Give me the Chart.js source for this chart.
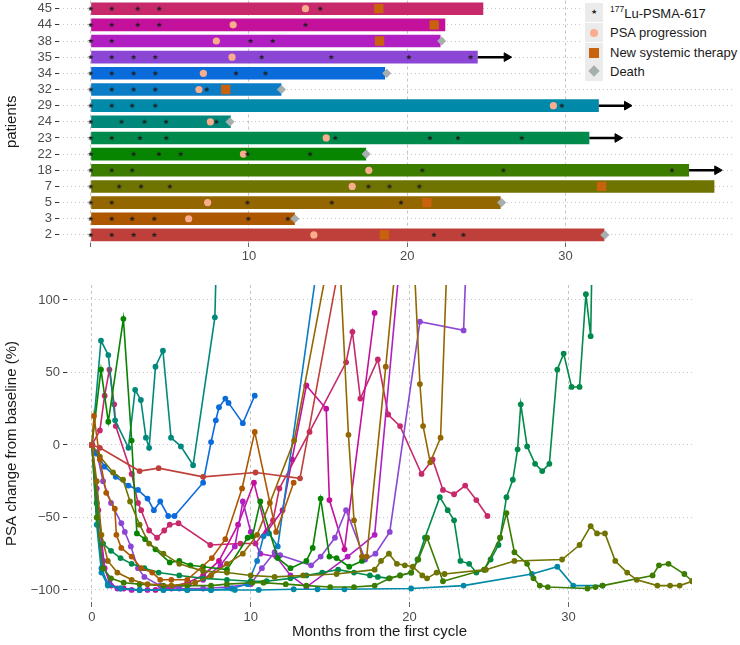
<!DOCTYPE html>
<html>
<head>
<meta charset="utf-8">
<script src="https://cdn.jsdelivr.net/npm/chart.js@4.4.1/dist/chart.umd.min.js"></script>
<style>
  body{margin:0;background:#fff;width:740px;height:645px;overflow:hidden;position:relative;font-family:"Liberation Sans",Arial,sans-serif;}
  #swim{position:absolute;left:0;top:-6px;}
  #psa{position:absolute;left:0;top:265px;}
  #legend{position:absolute;left:583px;top:0;width:157px;height:81px;background:#fff;}
  .row{position:absolute;left:2px;height:20px;width:155px;}
  .key{position:absolute;left:0;top:0;width:18px;height:19px;background:#ebebeb;}
  .lab{position:absolute;left:25px;top:2px;font-size:13px;color:#1a1a1a;white-space:nowrap;}
  .lab sup{font-size:8.5px;position:relative;top:-1px;}
  .star{position:absolute;left:6px;top:5px;font-size:7px;color:#222;}
  .dot{position:absolute;left:5px;top:6px;width:8px;height:8px;border-radius:50%;background:#f9ad8d;}
  .sq{position:absolute;left:4px;top:5px;width:10px;height:10px;background:#c9620c;}
  .dia{position:absolute;left:5px;top:5px;width:8px;height:8px;background:#a7aeae;transform:rotate(45deg);}
</style>
</head>
<body>
<canvas id="swim" width="740" height="271"></canvas>
<canvas id="psa" width="740" height="380"></canvas>
<div id="legend">
  <div class="row" style="top:3px"><span class="key"><span class="star">&#9733;</span></span><span class="lab"><sup>177</sup>Lu-PSMA-617</span></div>
  <div class="row" style="top:23px"><span class="key"><span class="dot"></span></span><span class="lab">PSA progression</span></div>
  <div class="row" style="top:43px"><span class="key"><span class="sq"></span></span><span class="lab">New systemic therapy</span></div>
  <div class="row" style="top:62px"><span class="key"><span class="dia"></span></span><span class="lab">Death</span></div>
</div>
<script>
// ---------- swimmer data ----------
const patients = ['45','44','38','35','34','32','29','24','23','22','18','7','5','3','2'];
const barEnds  = [24.8,22.4,22.1,24.45,18.6,12.05,32.1,8.85,31.5,17.4,37.8,39.4,25.9,12.9,32.45];
const patientColors = ['#c7296b','#c4119c','#b11ec2','#8c46d6','#0a6bdb','#0a7dc6','#0089a8','#00897a',
                       '#008a4b','#078500','#3c7d00','#6f7300','#936600','#ad5700','#bf403a'];

const cycles = {
  '45':[0,1.33,2.97,4.33,14.5],
  '44':[0,1.33,2.97,4.33,13.57],
  '38':[0,1.33,10.1,11.5],
  '35':[0,1.33,2.71,4.08,10.8,15.2,20.1,24.0],
  '34':[0,1.33,2.71,4.08,9.18,11.04],
  '32':[0,1.33,2.71,4.08,7.33],
  '29':[0,1.33,2.62,4.08,29.76],
  '24':[0,1.95,3.4,4.76,7.94],
  '23':[0,1.33,3.11,4.78,15.45,21.43,23.2,27.23],
  '22':[0,2.71,4.31,5.68,9.9,13.86],
  '18':[0,1.33,2.62,20.95,26.07,36.72],
  '7':[0,1.8,3.18,5.0,17.55,18.88,20.76],
  '5':[0,1.33,9.9,15.23,19.6],
  '3':[0,1.33,2.62,4.02,9.96,12.45],
  '2':[0,1.33,2.71,4.02,21.68,23.54]
};
const progression = {'45':13.57,'44':9.0,'38':7.94,'35':8.93,'34':7.12,'32':6.84,'29':29.23,'24':7.56,
                     '23':14.88,'22':9.65,'18':17.57,'7':16.52,'5':7.39,'3':6.19,'2':14.1};
const newTherapy = {'45':18.2,'44':21.7,'38':18.25,'32':8.53,'7':32.27,'5':21.24,'2':18.55};
const deaths = {'38':22.17,'34':18.7,'32':12.05,'24':8.8,'22':17.4,'5':25.96,'3':12.9,'2':32.48};
const arrowTips = {'35':26.6,'29':34.2,'23':33.6,'18':39.9};

// ---------- PSA data (month, % change) ----------
const psa2  = [[0,0],[0.5,-2],[3.0,-18],[4.2,-16],[7.0,-22],[10.3,-19],[13.1,-23],[16.0,150]];
const psa3  = [[0,0],[0.13,20],[0.5,-10],[0.9,-33],[1.44,-44],[1.54,-62],[1.85,-71],[2.5,-77],[3.1,-85],[3.8,-88],
               [4.3,-93],[5.0,-93],[6.0,-93],[7.55,-78],[8.4,-65],[9.45,-30],[10.25,9],[11.6,-60],[12.7,-26]];
const psa5  = [[0,0],[0.3,-25],[0.6,-62],[1.0,-80],[1.6,-88],[2.5,-93],[3.5,-96],[5,-97],[6.5,-95],[7.5,-90],
               [8.5,-82],[9.5,-75],[10.4,-62],[11.2,-40],[12.73,3],[15.45,160],[16.15,7],[16.5,-52],[17.0,-77],
               [17.3,-77],[18.5,54],[19.9,215],[20.65,42],[20.85,13],[21.3,-12],[21.95,5],[22.6,200]];
const psa7  = [[0,0],[0.5,-8],[1.33,-19],[1.96,-24],[2.4,-39],[3.0,-55],[3.6,-68],[4.5,-75],[5.5,-82],[7,-87],
               [8.5,-88],[10,-90],[11.5,-91],[13.3,-90],[15.4,-89],[17.8,-86],[18.2,-80],[18.7,-75],[19.2,-82],
               [19.7,-83],[20.2,-84],[20.8,-90],[21.1,-92],[21.7,-88],[22.2,-89],[24.8,-86],[26.6,-80],[29.6,-79],
               [30.7,-69],[31.4,-56],[31.8,-61],[32.3,-61],[32.95,-80],[33.7,-88],[34.3,-93],[35.6,-97],[36.4,-97],
               [37,-97],[37.8,-94]];
const psa18 = [[0,0],[0.3,-50],[0.7,-85],[1.2,-92],[2,-95],[3,-96],[4.5,-97],[6,-97],[7.5,-97],[8.5,-96],
               [10.1,-95],[10.8,-95],[12.2,-96],[13.5,-97],[15,-98],[16.5,-98],[17.8,-97],[18.75,-92],[19.4,-90],
               [20.1,-88],[20.55,-79],[21.1,-64],[22.1,-94],[24.7,-86],[25.7,-64],[26.1,-47],[26.6,-74],[27.4,-82],
               [27.8,-92],[28.2,-97],[28.7,-98],[31.2,-99],[31.7,-98],[32.15,-97],[35.3,-90],[35.7,-83],[36.3,-82],
               [37.3,-89],[37.8,-94]];
const psa22 = [[0,0],[0.57,52],[1.03,16],[1.98,87],[2.5,3],[2.83,-61],[3.35,-65],[4.0,-72],[4.9,-81],[5.5,-80],
               [6.2,-83],[7.0,-84],[8.5,-86],[9.8,-64],[10.1,-63],[10.6,-39],[11.7,-78],[12.5,-85],[13.5,-80],
               [13.9,-71],[14.4,-37],[14.95,-77],[15.4,-78],[16.2,-84],[17.0,-80]];
const psa23 = [[0,0],[0.3,-40],[0.7,-68],[1.2,-73],[1.8,-78],[2.5,-82],[3.3,-85],[4.2,-88],[5.5,-90],[7,-92],
               [8.5,-93],[10,-94],[11,-94],[12.5,-92],[13.5,-90],[14.5,-88],[15.5,-86],[16.5,-88],[17.5,-90],
               [18.0,-91],[18.7,-92],[19.4,-90],[20.1,-88],[20.5,-79],[20.97,-64],[21.9,-36],[22.4,-45],[22.8,-52],
               [23.2,-80],[23.75,-82],[24.2,-88],[24.7,-86],[25.1,-79],[25.6,-69],[25.7,-64],[26.1,-36],[26.5,-24],
               [26.8,-3],[27.0,28],[27.4,-1],[27.9,-13],[28.35,-18],[28.8,-13],[29.3,52],[29.7,63],[30.2,40],
               [30.7,40],[31.1,104],[31.4,75],[31.6,200]];
const psa24 = [[0,0],[0.57,72],[1.03,62],[1.46,17],[2.3,-2],[2.72,38],[3.08,31],[3.4,5],[3.6,-2],[4.0,54],
               [4.47,65],[4.98,5],[5.6,-1],[6.37,-14],[7.74,88],[8.0,200]];
const psa29 = [[0,0],[0.3,-55],[0.6,-88],[1.0,-97],[1.8,-99],[3,-100],[4.5,-100],[6,-100],[7.5,-100],[9,-100],
               [10.5,-100],[12.7,-99.5],[14.2,-99.5],[15.9,-99.5],[20.1,-99],[23.4,-97],[27.7,-89],[29.3,-84],
               [30.3,-97],[32.15,-97]];
const psa32 = [[0,0],[0.3,-40],[0.6,-85],[1.0,-96],[1.8,-99],[3,-100],[4.5,-100],[6,-100],[7.5,-100],[8.8,-99],
               [9.8,-96],[10.4,-80],[10.8,-63],[11.15,-61],[11.7,-70],[14.2,125]];
const psa34 = [[0,0],[0.3,-6],[0.8,-15],[1.5,-22],[2.3,-28],[2.9,-31],[3.5,-37],[3.9,-45],[4.3,-39],[4.8,-49],
               [5.2,-49],[7.0,-26],[7.5,2],[7.8,17],[8.0,26],[8.4,32],[8.6,29],[9.5,15],[10.25,34]];
const psa35 = [[0,0],[0.3,-5],[0.7,-25],[1.2,-40],[1.85,-54],[2.07,-60],[2.45,-70],[2.9,-85],[3.3,-91],[4.3,-97],
               [5.5,-99],[7,-99],[8.5,-98],[10,-96],[10.7,-85],[11.5,-74],[11.85,-76],[13.8,-83],[14.4,-77],
               [15.3,-64],[16.0,-45],[17.2,-79],[17.85,-75],[18.75,-60],[20.65,85],[23.4,79],[23.8,200]];
const psa38 = [[0,0],[0.3,-30],[0.7,-80],[1.1,-95],[1.6,-99],[2.5,-100],[3.5,-100],[5,-99],[6.1,-96],[7,-93],
               [8.1,-83],[9.0,-70],[9.5,-39],[10.0,-60],[10.6,-75],[11.6,-77],[12.5,-90],[13.5,-98],[16.1,-77],
               [17.8,-62],[19.5,140]];
const psa44 = [[0,0],[0.4,-45],[0.8,-85],[1.2,-97],[2,-99],[3,-100],[4,-100],[5,-98],[6,-95],[7,-90],[8,-80],
               [9.2,-55],[10.2,-26],[11.0,-60],[12.0,-45],[12.6,-10],[13.5,41],[14.75,25],[14.95,-38],[15.9,-72],
               [17.8,91]];
const psa45 = [[0,0],[0.5,10],[0.8,34],[1.1,52],[1.4,28],[1.5,13],[2.5,-20],[2.9,-40],[3.1,-45],[3.6,-59],
               [4.1,-64],[4.55,-59],[4.9,-55],[5.45,-54],[7.45,-69],[9.35,-68],[10.3,-68],[11.4,-52],[11.8,-30],
               [13.7,9],[16.0,57],[16.4,78],[16.9,32],[18.0,59],[18.65,21],[19.4,13],[20.75,-20],[21.45,-10],
               [22.1,-31],[22.8,-34],[23.5,-28],[24.2,-38],[24.9,-49]];

const psaPatients = ['2','3','5','7','18','22','23','24','29','32','34','35','38','44','45'];
const psaSeries = [psa2,psa3,psa5,psa7,psa18,psa22,psa23,psa24,psa29,psa32,psa34,psa35,psa38,psa44,psa45];

const monthTicks = [0,10,20,30];
const psaTicks = [-100,-50,0,50,100];

// =========================================
// helpers
// =========================================
function makeStar(r){
    const s = Math.ceil(r*2)+2;
    const c = document.createElement('canvas');
    c.width = s; c.height = s;
    const g = c.getContext('2d');
    g.fillStyle = '#1e1e1e';
    g.beginPath();
    for(let i=0;i<10;i++){
        const a = -Math.PI/2 + i*Math.PI/5;
        const rr = i%2 ? r*0.45 : r;
        g.lineTo(s/2 + rr*Math.cos(a), s/2 + rr*Math.sin(a));
    }
    g.closePath();
    g.fill();
    return c;
}

function toPoints(obj){
    const out = [];
    Object.keys(obj).forEach(p => [].concat(obj[p]).forEach(x => out.push({x:x, y:p})));
    return out;
}

const tickFont = {family:'"Liberation Sans", Arial, sans-serif', size:13};
const titleFont = {family:'"Liberation Sans", Arial, sans-serif', size:15};
const tickGray = '#4d4d4d';

// =========================================
// SWIMMER PLOT
// =========================================
const arrowSets = Object.keys(arrowTips).map(p => {
    const i = patients.indexOf(p);
    return {
        type:'line',
        data:[{x:barEnds[i], y:p},{x:arrowTips[p]-0.32, y:p}],
        borderColor:'#000',
        borderWidth:2.5,
        pointStyle:'triangle',
        rotation:90,
        pointRadius:ctx => ctx.dataIndex === 1 ? 5 : 0,
        pointBackgroundColor:'#000',
        pointBorderColor:'#000',
        pointBorderWidth:1,
        order:1
    };
});

new Chart(document.getElementById('swim'), {
    type:'bar',
    data:{
        labels:patients,
        datasets:[
            {
                type:'scatter',
                data:toPoints(cycles),
                pointStyle:makeStar(2.8),
                order:0
            },
            {
                type:'scatter',
                data:toPoints(progression),
                pointStyle:'circle',
                pointRadius:3.6,
                pointBackgroundColor:'#f9ad8d',
                pointBorderWidth:0,
                order:0
            },
            {
                type:'scatter',
                data:toPoints(newTherapy),
                pointStyle:'rect',
                pointRadius:6.6,
                pointBackgroundColor:'#c9620c',
                pointBorderWidth:0,
                order:0
            },
            {
                type:'scatter',
                data:toPoints(deaths),
                pointStyle:'rectRot',
                pointRadius:4.6,
                pointBackgroundColor:'#a7aeae',
                pointBorderWidth:0,
                order:0
            },
            ...arrowSets,
            {
                type:'bar',
                data:barEnds.map(e => [0, e]),
                backgroundColor:patientColors,
                barPercentage:0.78,
                categoryPercentage:1,
                order:10
            }
        ]
    },
    options:{
        indexAxis:'y',
        responsive:false,
        animation:false,
        layout:{padding:{left:0,right:5,top:0,bottom:0}},
        plugins:{legend:{display:false}, tooltip:{enabled:false}},
        scales:{
            x:{
                type:'linear',
                min:-2.0,
                max:40.6,
                afterBuildTicks:s => { s.ticks = monthTicks.map(v => ({value:v})); },
                afterFit:s => { s.height = 22; s.paddingLeft = 0; s.paddingRight = 0; },
                grid:{color:'#c4c4c4', tickColor:'#666', tickLength:4},
                border:{display:false, dash:[3,3]},
                ticks:{font:tickFont, color:tickGray, padding:2,
                       callback:v => v === 0 ? '' : v}
            },
            y:{
                type:'category',
                offset:true,
                afterFit:s => { s.width = 59; s.paddingTop = 0; s.paddingBottom = 0; },
                grid:{color:'#c8c8c8', offset:false, tickColor:'#333', tickLength:4},
                border:{display:false, dash:[1,3]},
                ticks:{font:tickFont, color:tickGray, padding:3, autoSkip:false},
                title:{display:true, text:'patients', font:titleFont, color:'#1a1a1a', padding:{top:3,bottom:4}}
            }
        }
    }
});

// =========================================
// PSA CHANGE PLOT
// =========================================
const psaSets = psaSeries.map((s, k) => {
    const col = patientColors[patients.indexOf(psaPatients[k])];
    return {
        label:psaPatients[k],
        data:s.map(d => ({x:d[0], y:d[1]})),
        borderColor:col,
        backgroundColor:col,
        pointBackgroundColor:col,
        pointBorderWidth:0,
        pointRadius:2.9,
        borderWidth:1.6,
        tension:0
    };
});

new Chart(document.getElementById('psa'), {
    type:'line',
    data:{datasets:psaSets},
    options:{
        responsive:false,
        animation:false,
        layout:{padding:{left:0,right:48,top:20,bottom:0}},
        plugins:{legend:{display:false}, tooltip:{enabled:false}},
        scales:{
            x:{
                type:'linear',
                min:-1.57,
                max:37.78,
                afterBuildTicks:s => { s.ticks = monthTicks.map(v => ({value:v})); },
                afterFit:s => { s.height = 43; },
                grid:{color:'#c4c4c4', tickColor:'#666', tickLength:5},
                border:{display:false, dash:[3,3]},
                ticks:{font:tickFont, color:tickGray, padding:3},
                title:{display:true, text:'Months from the first cycle', font:titleFont, color:'#1a1a1a',
                       padding:{top:3,bottom:4}}
            },
            y:{
                type:'linear',
                min:-108.3,
                max:110.3,
                afterBuildTicks:s => { s.ticks = psaTicks.map(v => ({value:v})); },
                afterFit:s => { s.width = 67; },
                grid:{color:'#c8c8c8', tickColor:'#333', tickLength:4},
                border:{display:false, dash:[1,3]},
                ticks:{font:tickFont, color:tickGray, padding:3,
                       callback:v => v < 0 ? '\u2212' + Math.abs(v) : v},
                title:{display:true, text:'PSA change from baseline (%)', font:titleFont, color:'#1a1a1a',
                       padding:{top:3,bottom:4}}
            }
        }
    }
});
</script>
</body>
</html>
